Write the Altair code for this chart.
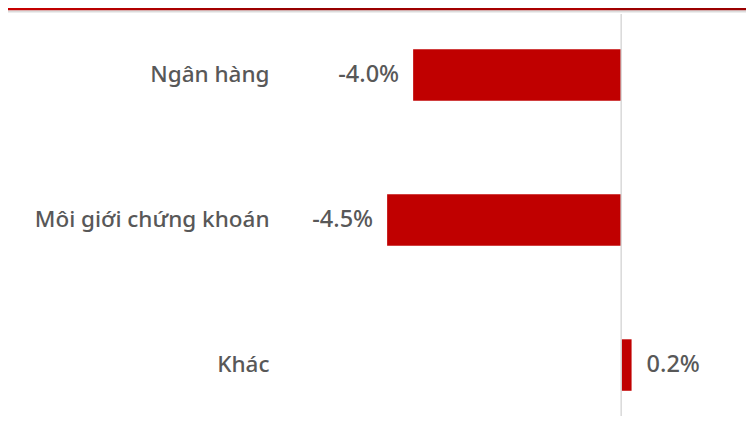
import altair as alt
import pandas as pd

categories = ["Ngân hàng", "Môi giới chứng khoán", "Khác"]
values = [-4.0, -4.5, 0.2]
value_labels = ["-4.0%", "-4.5%", "0.2%"]

df = pd.DataFrame({"cat": categories, "v": values, "lbl": value_labels})

W, H = 466, 402
FONT = "Noto Sans"
x_scale = alt.Scale(domain=[-6.56, 2.40], nice=False, zero=False)
y_enc = alt.Y("cat:N", sort=None, title=None,
              scale=alt.Scale(paddingInner=0.645, paddingOuter=0.2085, align=0.583),
              axis=alt.Axis(domain=False, ticks=False, tickSize=0, labelPadding=11,
                            labelFont=FONT, labelFontSize=22.5, labelColor="#585858",
                            labelFontWeight=500, labelLimit=400))

base = alt.Chart(df)

bars = base.mark_bar(color="#c00000").encode(
    x=alt.X("v:Q", scale=x_scale, axis=None),
    x2=alt.datum(0),
    y=y_enc,
)

neg = base.transform_filter("datum.v < 0").mark_text(
    align="right", baseline="middle", dx=-14, font=FONT, fontSize=23.5,
    fontWeight=500, color="#585858"
).encode(x=alt.X("v:Q", scale=x_scale), y=alt.Y("cat:N", sort=None), text="lbl:N")

pos = base.transform_filter("datum.v >= 0").mark_text(
    align="left", baseline="middle", dx=15, font=FONT, fontSize=23.5,
    fontWeight=500, color="#585858"
).encode(x=alt.X("v:Q", scale=x_scale), y=alt.Y("cat:N", sort=None), text="lbl:N")

zero = alt.Chart(alt.Data(values=[{"z": 0}])).mark_rule(
    color="#d9d9d9", strokeWidth=1.5
).encode(x=alt.X("z:Q", scale=x_scale), y=alt.value(0), y2=alt.value(H + 20))

banner = alt.Chart(alt.Data(values=[{"b": 1}])).mark_rect(
    fill=alt.LinearGradient(
        gradient="linear", x1=0, x2=1, y1=0, y2=0,
        stops=[alt.GradientStop(offset=0, color="#c80000"),
               alt.GradientStop(offset=0.4, color="#940000"),
               alt.GradientStop(offset=0.8, color="#b00000"),
               alt.GradientStop(offset=0.83, color="#9c0000"),
               alt.GradientStop(offset=1, color="#9a0000")]),
).encode(x=alt.value(-272), x2=alt.value(W), y=alt.value(-6), y2=alt.value(-3.5))

gray = alt.Chart(alt.Data(values=[{"b": 1}])).mark_rect(color="#dcdcdc").encode(
    x=alt.value(-272), x2=alt.value(W), y=alt.value(-3.5), y2=alt.value(-1.5))

chart = alt.layer(bars, zero, neg, pos, banner, gray).properties(
    width=W, height=H,
    autosize=alt.AutoSizeParams(type="none"),
    padding={"left": 272, "top": 6, "right": 0, "bottom": 0},
).configure_view(stroke=None)

chart.save("out.html", embed_options={"renderer": "svg", "actions": False})
